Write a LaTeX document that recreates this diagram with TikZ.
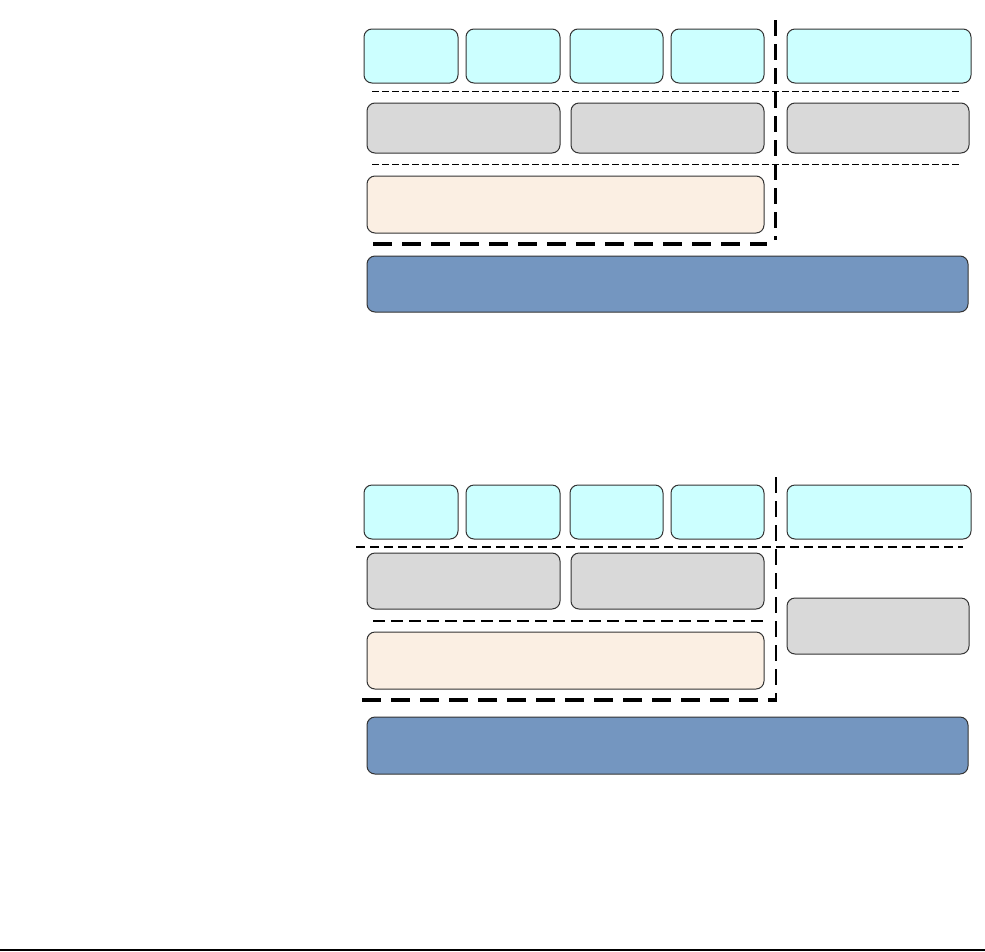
\documentclass[tikz,border=0pt]{standalone}
\definecolor{cyanc}{HTML}{CCFFFF}
\definecolor{grayc}{HTML}{D9D9D9}
\definecolor{peachc}{HTML}{FBEFE3}
\definecolor{bluec}{HTML}{7496C0}
\definecolor{edgec}{HTML}{333333}
\tikzset{
  box/.style={draw=edgec, line width=1pt, rounded corners=8pt, inner sep=0pt, outer sep=0pt, anchor=north west},
  thindash/.style={line width=1.3pt, dash pattern=on 6.5pt off 3.5pt},
  thindashb/.style={line width=1.5pt, dash pattern=on 9pt off 5pt},
  meddash/.style={line width=2.5pt, dash pattern=on 12pt off 6pt},
  thickdash/.style={line width=3.5pt, dash pattern=on 19pt off 10pt},
  vdash/.style={line width=2.5pt, dash pattern=on 16pt off 8pt},
}
\newcommand{\bx}[6]{% name, color, x1, y1, x2, y2
  \node[box, fill=#2, minimum width={(#5-#3)*1pt}, minimum height={(#6-#4)*1pt}] (#1) at (#3,#4) {};}
\begin{document}
\begin{tikzpicture}[x=1pt,y=-1pt]
\useasboundingbox (0,0) rectangle (985,951);
% ---------- top diagram ----------
\bx{ta}{cyanc}{364}{29}{458}{83}
\bx{tb}{cyanc}{466}{29}{560}{83}
\bx{tc}{cyanc}{570}{29}{663}{83}
\bx{td}{cyanc}{671}{29}{764}{83}
\bx{te}{cyanc}{787}{29}{971}{83}
\bx{tf}{grayc}{367}{103}{560}{153}
\bx{tg}{grayc}{571}{103}{764}{153}
\bx{th}{grayc}{787}{103}{969}{153}
\bx{ti}{peachc}{367}{176}{764}{233}
\bx{tj}{bluec}{367}{256}{968}{312}
\coordinate (tl1a) at (372,91.5); \coordinate (tl1b) at (962,91.5);
\coordinate (tl2a) at (372,164.5); \coordinate (tl2b) at (962,164.5);
\coordinate (tl3a) at (373,244); \coordinate (tl3b) at (767,244);
\coordinate (tv1) at (775.5,20); \coordinate (tv2) at (775.5,240);
\draw[thindash] (tl1a) -- (tl1b);
\draw[thindash] (tl2a) -- (tl2b);
\draw[thickdash] (tl3a) -- (tl3b);
\draw[vdash] (tv1) -- (tv2);
% ---------- bottom diagram ----------
\bx{ba}{cyanc}{364}{485}{458}{539}
\bx{bb}{cyanc}{466}{485}{560}{539}
\bx{bc}{cyanc}{570}{485}{663}{539}
\bx{bd}{cyanc}{671}{485}{764}{539}
\bx{be}{cyanc}{787}{485}{971}{539}
\bx{bf}{grayc}{367}{553}{560}{609}
\bx{bg}{grayc}{571}{553}{764}{609}
\bx{bh}{grayc}{787}{598}{969}{654}
\bx{bi}{peachc}{367}{632}{764}{689}
\bx{bj}{bluec}{367}{717}{968}{774}
\coordinate (bl1a) at (356,547); \coordinate (bl1b) at (963,547);
\coordinate (bl2a) at (373,621); \coordinate (bl2b) at (764,621);
\coordinate (bl3a) at (362,700); \coordinate (bl3b) at (777,700);
\coordinate (bv1) at (776,477); \coordinate (bv2) at (776,700);
\draw[thindashb] (bl1a) -- (bl1b);
\draw[meddash] (bl2a) -- (bl2b);
\draw[thickdash] (bl3a) -- (bl3b);
\draw[vdash] (bv1) -- (bv2);
% ---------- bottom rule ----------
\coordinate (r1) at (0,950); \coordinate (r2) at (985,950);
\draw[line width=1.4pt] (r1) -- (r2);
\end{tikzpicture}
\end{document}
